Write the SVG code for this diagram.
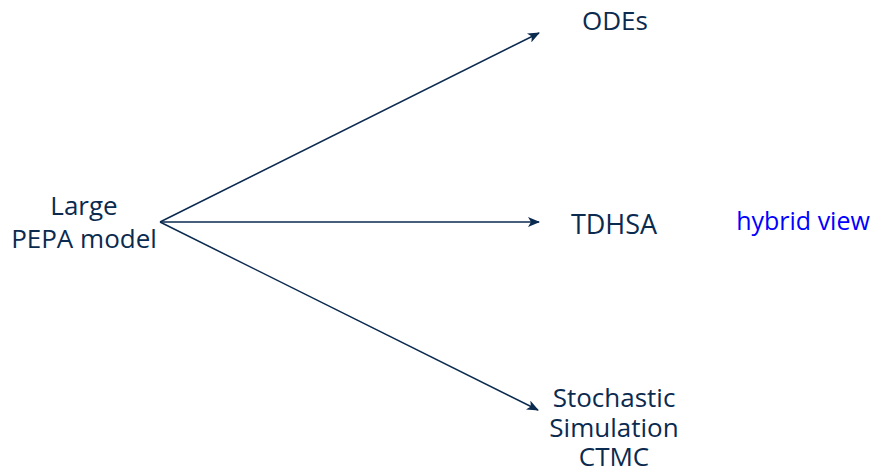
<svg xmlns="http://www.w3.org/2000/svg" width="875" height="468" viewBox="0 0 875 468">
<style>
text{font-family:"Open Sans","Liberation Sans",sans-serif;fill:#0b2a4f;font-size:26px;text-anchor:middle}
.c{stroke:#0b2a4f;stroke-width:1.5;fill:none}
.b{fill:#0000ff;font-size:25px}
</style>
<defs>
<marker id="ah" viewBox="0 0 12 10" refX="11" refY="5" markerWidth="12" markerHeight="10" markerUnits="userSpaceOnUse" orient="auto">
<path d="M0,0 L12,5 L0,10 L3,5 Z" fill="#0b2a4f"/>
</marker>
</defs>
<rect width="875" height="468" fill="#fff"/>
<g id="connectors">
<line class="c" x1="160" y1="222" x2="539" y2="33" marker-end="url(#ah)"/>
<line class="c" x1="160" y1="222" x2="539" y2="222" marker-end="url(#ah)"/>
<line class="c" x1="160" y1="222" x2="538" y2="410" marker-end="url(#ah)"/>
</g>
<g id="pepa"><text x="84" y="215">Large</text><text x="84" y="248">PEPA model</text></g>
<g id="odes"><text x="615" y="30">ODEs</text></g>
<g id="tdhsa"><text x="614" y="234" style="font-size:27px">TDHSA</text></g>
<g id="ctmc"><text x="614" y="407">Stochastic</text><text x="614" y="437">Simulation</text><text x="614" y="466">CTMC</text></g>
<g id="hybrid"><text class="b" x="803" y="230">hybrid view</text></g>
</svg>
